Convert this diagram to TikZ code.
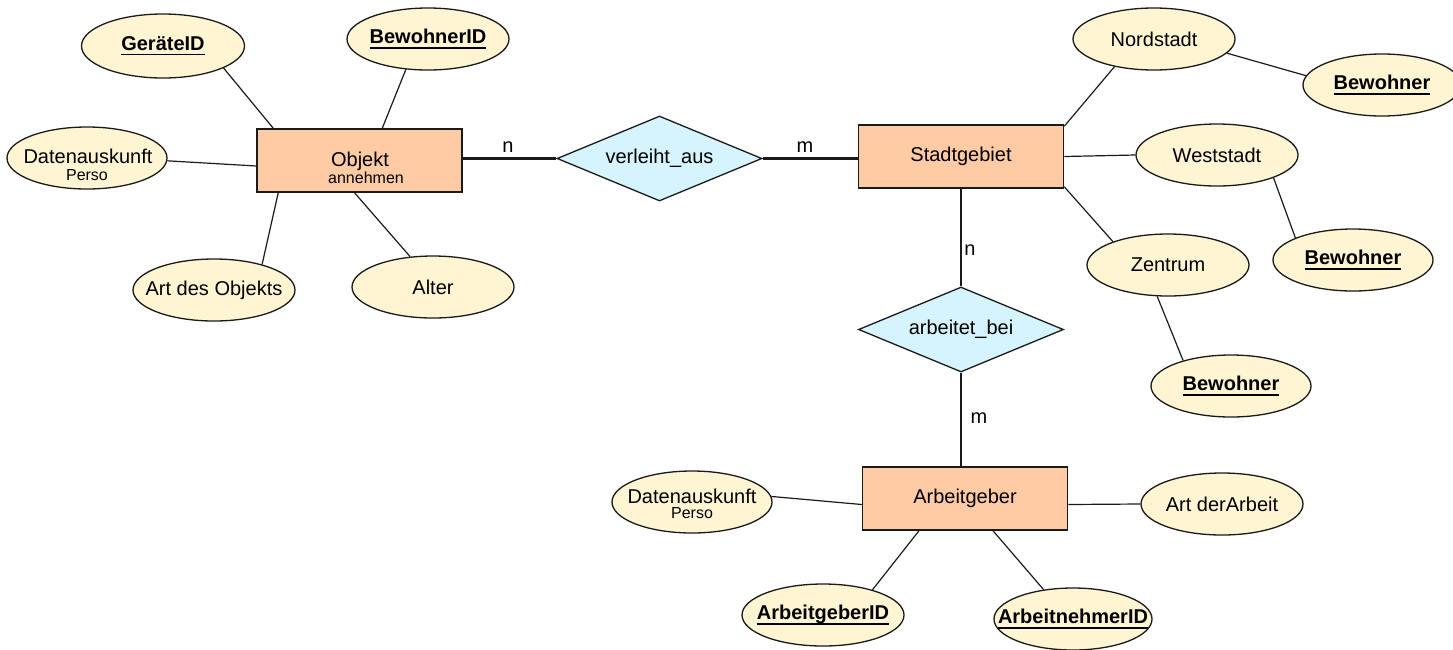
\documentclass[tikz,border=0pt]{standalone}
\usepackage{fontspec}
\setmainfont{Liberation Sans}
\usetikzlibrary{shapes.geometric,calc}

\definecolor{entfill}{HTML}{FFCBA4}
\definecolor{relfill}{HTML}{D5F4FE}
\definecolor{attfill}{HTML}{FFF5D3}
\definecolor{edge}{HTML}{1A1A1A}

% text of fixed width zero, so the shape keeps its own size
\newcommand{\ctr}[1]{\makebox[0pt][c]{#1}}
% key attribute: bold, underlined a little below the baseline
\newcommand{\keyattr}[1]{\setbox0=\hbox{\bfseries #1}\makebox[0pt][c]{\rlap{\rule[-5pt]{\wd0}{1.6pt}}\box0}}
\newcommand{\smalltxt}{\fontsize{16}{18}\selectfont}

\begin{document}
\begin{tikzpicture}[x=1pt,y=-1pt,
  font=\fontsize{20}{24}\selectfont,
  entity/.style={rectangle, draw=edge, fill=entfill, line width=1.5pt,
    minimum width=205pt, minimum height=63pt, inner sep=0pt},
  rel/.style={diamond, draw=edge, fill=relfill, line width=1.3pt,
    minimum width=205pt, minimum height=85pt, inner sep=0pt, aspect=2.4},
  attr/.style={ellipse, draw=edge, fill=attfill, line width=1.3pt,
    minimum width=162pt, minimum height=62pt, inner sep=0pt},
  link/.style={draw=edge, line width=1.2pt},
  card/.style={draw=edge, line width=2.2pt},
  cardtxt/.style={inner sep=0pt},
  txt/.style={inner sep=0pt, anchor=base}]

\useasboundingbox (0,0) rectangle (1453,649);
\clip (0,0) rectangle (1453,649);

% entities
\node[entity] (obj) at (359.5,160.5) {};
\node[txt] (objA) at (360,166) {Objekt};
\node[txt,font=\smalltxt] (objB) at (366,183) {annehmen};
\node[entity] (stadt) at (961,156.5) {Stadtgebiet};
\node[entity] (arbg) at (965,498.5) {Arbeitgeber};

% relationships
\node[rel] (verl) at (659.5,158.5) {verleiht\_aus};
\node[rel] (arbb) at (961,329.5) {arbeitet\_bei};

% attributes of Objekt
\node[attr, minimum width=163pt, minimum height=64pt] (geraete) at (163,46) {\keyattr{GeräteID}};
\node[attr] (bewid) at (428,39) {\keyattr{BewohnerID}};
\node[attr, minimum width=160pt] (dat1) at (87,158) {};
\node[txt] (dat1A) at (88,163) {Datenauskunft};
\node[txt,font=\smalltxt] (dat1B) at (87,180) {Perso};
\node[attr] (artobj) at (214,290) {\ctr{Art des Objekts}};
\node[attr] (alter) at (433,287) {\ctr{Alter}};

% attributes of Stadtgebiet
\node[attr] (nord) at (1154,39) {\ctr{Nordstadt}};
\node[attr, minimum width=158pt] (bew1) at (1382,85) {\keyattr{Bewohner}};
\node[attr] (west) at (1217,155) {\ctr{Weststadt}};
\node[attr, minimum width=160pt] (bew2) at (1353,260) {\keyattr{Bewohner}};
\node[attr] (zentr) at (1168,265) {\ctr{Zentrum}};
\node[attr, minimum width=160pt] (bew3) at (1231,386) {\keyattr{Bewohner}};

% attributes of Arbeitgeber
\node[attr, minimum width=160pt] (dat2) at (692,502) {};
\node[txt] (dat2A) at (692,503) {Datenauskunft};
\node[txt,font=\smalltxt] (dat2B) at (692,518) {Perso};
\node[attr] (artarb) at (1222,504) {\ctr{Art derArbeit}};
\node[attr] (agid) at (823,615) {\keyattr{ArbeitgeberID}};
\node[attr, minimum width=158pt] (anid) at (1073,619) {\keyattr{ArbeitnehmerID}};

% relationship lines with cardinalities
\draw[card] (obj.east |- verl.west) -- (verl.west);
\draw[card] (verl.east) -- (verl.east -| stadt.west);
\draw[card] (stadt.south) -- (arbb.north);
\draw[card] (arbb.south) -- (arbb.south |- arbg.north);
\node[cardtxt] (c1) at (508,147) {n};
\node[cardtxt] (c2) at (805,147) {m};
\node[cardtxt] (c3) at (970,250) {n};
\node[cardtxt] (c4) at (979,418) {m};

% attribute links
\draw[link] ([xshift=17pt]obj.north west) -- (geraete.-20);
\draw[link] ([xshift=126pt]obj.north west) -- (bewid.-126);
\draw[link] ([yshift=-5.5pt]obj.west) -- (dat1.-2);
\draw[link] ([xshift=22pt]obj.south west) -- (artobj.28);
\draw[link] ([xshift=-5pt]obj.south) -- (alter.127);

\draw[link] ([yshift=-2pt]stadt.north east) -- (nord.215);
\draw[link] (nord.-11) -- (bew1.173);
\draw[link] (stadt.east) -- (west.180);
\draw[link] (west.-22) -- (bew2.159);
\draw[link] ([yshift=2pt]stadt.south east) -- (zentr.157);
\draw[link] (zentr.-109) -- (bew3.152);

\draw[link] ([yshift=-6pt]arbg.west) -- (dat2.4);
\draw[link] ([yshift=-6pt]arbg.east) -- (artarb.180);
\draw[link] ([xshift=-46pt]arbg.south) -- (agid.27);
\draw[link] ([xshift=28pt]arbg.south) -- (anid.135);
\end{tikzpicture}
\end{document}
